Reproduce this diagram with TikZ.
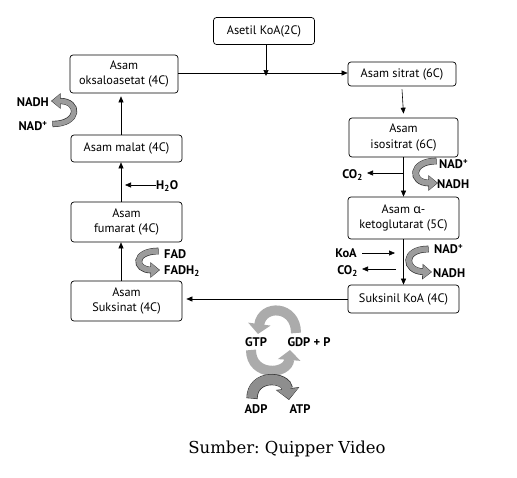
\documentclass[tikz,border=0pt]{standalone}
\usepackage{fontspec}
\usetikzlibrary{arrows.meta}
\newfontfamily\dfont{PT Sans}
\newfontfamily\grk{Noto Sans}
\newfontfamily\capfont{DejaVu Serif}
\definecolor{gfill}{HTML}{9C9C9C}
\definecolor{glight}{HTML}{ABABAB}
\definecolor{gdark}{HTML}{8E8E8E}
\definecolor{outl}{HTML}{333333}
\newcommand\grayarrow[4]{%
  \draw[line width=#1+1.2pt, outl, shorten <=-0.6pt, -{Triangle[length=#2+1.6pt,width=#3+2pt]}] #4;
  \draw[line width=#1, gfill, shorten >=0.9pt, -{Triangle[length=#2,width=#3]}] #4;}
\begin{document}
\begin{tikzpicture}[x=1pt,y=-1pt,
  box/.style={draw, line width=0.7pt, rounded corners=3pt, align=center,
    font=\dfont\fontsize{12.3}{15.5}\selectfont, inner sep=1pt},
  arr/.style={line width=0.6pt, -{Triangle[length=6pt,width=5pt]}},
  lbl/.style={font=\dfont\bfseries\fontsize{12.5}{14}\selectfont, inner sep=0pt}]
\useasboundingbox (0,0) rectangle (517,477);
% boxes
\node[box, minimum width=101pt, minimum height=27pt] (asetil) at (264,31) {Asetil KoA(2C)};
\node[box, minimum width=108pt, minimum height=38pt] (oksalo) at (124,74) {Asam\\oksaloasetat (4C)};
\node[box, minimum width=108pt, minimum height=24pt] (sitrat) at (402,74) {Asam sitrat (6C)};
\node[box, minimum width=109pt, minimum height=39pt] (isos) at (403.5,137.5) {Asam\\isositrat (6C)};
\node[box, minimum width=111pt, minimum height=42pt] (keto) at (403.5,218) {Asam {\grk α}-\\ketoglutarat (5C)};
\node[box, minimum width=111pt, minimum height=28pt] (sukkoa) at (403.5,299) {Suksinil KoA (4C)};
\node[box, minimum width=111pt, minimum height=40pt] (suks) at (126.5,301) {Asam\\Suksinat (4C)};
\node[box, minimum width=111pt, minimum height=40pt] (fum) at (126.5,222) {Asam\\fumarat (4C)};
\node[box, minimum width=111pt, minimum height=27pt] (malat) at (126.5,148.5) {Asam malat (4C)};
% main connectors
\coordinate (join) at (266,73);
\draw[arr] (oksalo.east |- join) -- (sitrat.west |- join);
\draw[arr] (asetil.south -| join) -- ([yshift=-3pt]join);
\draw[arr] ([yshift=-3pt]sitrat.south) -- ([yshift=4pt]isos.north);
\draw[arr] (isos.south) -- (keto.north);
\draw[arr] (keto.south) -- (sukkoa.north);
\draw[arr, shorten >=4pt] (sukkoa.west) -- (suks.east |- sukkoa.west);
\coordinate (lx) at (121,0);
\draw[arr] (suks.north -| lx) -- (fum.south -| lx);
\draw[arr] (fum.north -| lx) -- (malat.south -| lx);
\draw[arr, shorten >=3pt] (malat.north -| lx) -- (oksalo.south -| lx);
% side labels and small arrows
\node[lbl, anchor=east] (co2a) at (363,175) {CO\textsubscript{2}};
\coordinate (co2aS) at (403,173);
\draw[arr] (co2aS) -- ([xshift=4pt]co2a.east |- co2aS);
\node[lbl, anchor=east] (koa) at (357,253) {KoA};
\coordinate (koaE) at (395,253);
\draw[arr] ([xshift=5pt]koa.east |- koaE) -- (koaE);
\node[lbl, anchor=east] (co2b) at (358,271) {CO\textsubscript{2}};
\coordinate (co2bS) at (396,269);
\draw[arr] (co2bS) -- ([xshift=4pt]co2b.east |- co2bS);
\node[lbl, anchor=west] (h2o) at (156,186) {H\textsubscript{2}O};
\coordinate (h2oE) at (125,185);
\draw[arr] (h2o.west |- h2oE) -- (h2oE);
% gray curved arrows
\grayarrow{5pt}{8pt}{13pt}{(53,124) .. controls (80,124) and (80,101) .. (51,101)}
\node[lbl, anchor=east] (nadh1) at (49,102) {NADH};
\node[lbl] (nad1) at (33,126) {NAD\textsuperscript{+}};
\grayarrow{5.5pt}{8pt}{13pt}{(436,161) .. controls (410,161) and (410,183) .. (438,183)}
\node[lbl, anchor=west] (nad2) at (439,164) {NAD\textsuperscript{+}};
\node[lbl, anchor=west] (nadh2) at (437,184) {NADH};
\grayarrow{5.5pt}{8pt}{13pt}{(428,249) .. controls (402,249) and (404,271) .. (432,272)}
\node[lbl, anchor=west] (nad3) at (434,249) {NAD\textsuperscript{+}};
\node[lbl, anchor=west] (nadh3) at (433,273) {NADH};
\grayarrow{5.5pt}{8pt}{13pt}{(158,251) .. controls (133,251) and (134,270) .. (160,270)}
\node[lbl, anchor=west] (fad) at (164,254) {FAD};
\node[lbl, anchor=west] (fadh) at (164,271) {FADH\textsubscript{2}};
% GTP cycle
\draw[line width=10pt, glight, -{Triangle[length=10pt,width=22pt]}] (296,333) .. controls (296,305) and (262,304) .. (258,334);
\draw[line width=10pt, glight, -{Triangle[length=10pt,width=22pt]}] (251,350) .. controls (251,377) and (288,375) .. (290,350);
\node[lbl] (gtp) at (256,342) {GTP};
\node[lbl] (gdp) at (309,342) {GDP + P};
\begin{scope}
\colorlet{gfill}{gdark}
\grayarrow{10pt}{10pt}{21pt}{(252,398) .. controls (252,374) and (286,376) .. (289,400)}
\end{scope}
\node[lbl] (adp) at (256,409) {ADP};
\node[lbl] (atp) at (300,409) {ATP};
% caption
\node[font=\capfont\fontsize{16.5}{20}\selectfont, inner sep=0pt] (cap) at (287,449) {\frenchspacing Sumber: Quipper Video};
\end{tikzpicture}
\end{document}
